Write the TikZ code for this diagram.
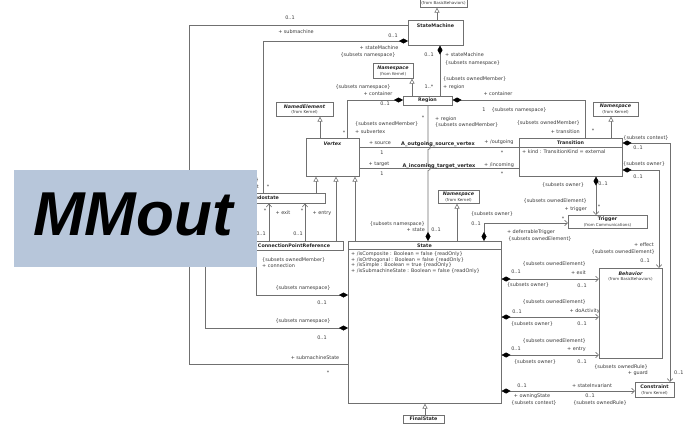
\documentclass[tikz,border=0pt]{standalone}
\usepackage{fontspec}
\usetikzlibrary{arrows.meta}
\newfontfamily\dvfam{DejaVu Sans}[ItalicFont={DejaVu Sans Oblique},BoldFont={DejaVu Sans Bold},BoldItalicFont={DejaVu Sans Bold Oblique}]
\newfontfamily\mmfam{Liberation Sans}
\newcommand\lbfont{\dvfam\fontsize{4.9}{5.4}\selectfont}
\newcommand\smfont{\dvfam\fontsize{4}{4.5}\selectfont}
\newcommand\ttlfont{\dvfam\bfseries\fontsize{4.8}{5.5}\selectfont}
\newcommand\absfont{\dvfam\bfseries\itshape\fontsize{4.8}{5.5}\selectfont}
\definecolor{linegray}{HTML}{707070}
\definecolor{txtgray}{HTML}{3A3A3A}
\definecolor{mmblue}{RGB}{183,198,218}
\tikzset{
  cls/.style={draw=linegray, fill=white, line width=0.6pt, inner sep=0, anchor=north west},
  ttl/.style={font=\ttlfont, text=black!85, inner sep=0},
  abs/.style={font=\absfont, text=black!85, inner sep=0},
  frm/.style={font=\smfont, text=txtgray, inner sep=0},
  lb/.style={font=\lbfont, text=txtgray, inner sep=0},
  an/.style={font=\dvfam\bfseries\fontsize{5}{5.5}\selectfont, text=black!85, inner sep=0},
  assoc/.style={draw=linegray, line width=0.6pt},
  comp/.style={assoc, {Diamond[length=9pt,width=5pt,color=black]}-},
  compend/.style={assoc, -{Diamond[length=9pt,width=5pt,color=black]}},
  nav/.style={assoc, -{Straight Barb[length=3pt,width=5.5pt]}},
  compnav/.style={assoc, {Diamond[length=9pt,width=5pt,color=black]}-{Straight Barb[length=3pt,width=5.5pt]}},
  gen/.style={assoc, -{Triangle[open,length=5pt,width=5pt,fill=white]}},
}
\begin{document}
\begin{tikzpicture}[x=1pt,y=1pt]
\useasboundingbox (0,0) rectangle (683,-442);
\fill[white] (0,0) rectangle (683,-442);

% ---------- classes ----------
\node[cls, minimum width=47, minimum height=19] (bb) at (420,12) {};
\node[frm] (bbF) at (443.5,-3.5) {(from BasicBehaviors)};

\node[cls, minimum width=55, minimum height=25] (sm) at (408,-20) {};
\node[ttl] (smT) at (435.5,-25.5) {StateMachine};

\node[cls, minimum width=40, minimum height=15] (ns1) at (373,-63) {};
\node[abs] (ns1T) at (393,-68) {Namespace};
\node[frm] (ns1F) at (393,-74.5) {(from Kernel)};

\node[cls, minimum width=49, minimum height=9] (rg) at (403,-96) {};
\node[ttl] (rgT) at (427.5,-100.5) {Region};

\node[cls, minimum width=57, minimum height=14] (ne) at (276,-102) {};
\node[abs] (neT) at (304.5,-106.5) {NamedElement};
\node[frm] (neF) at (304.5,-112.5) {(from Kernel)};

\node[cls, minimum width=53, minimum height=38] (vx) at (306,-138) {};
\node[abs] (vxT) at (332.5,-143.5) {Vertex};

\node[cls, minimum width=45, minimum height=14] (ns2) at (593,-102) {};
\node[abs] (ns2T) at (615.5,-106.5) {Namespace};
\node[frm] (ns2F) at (615.5,-112.5) {(from Kernel)};

\node[cls, minimum width=103, minimum height=38] (tr) at (519,-138) {};
\node[ttl] (trT) at (570.5,-142.5) {Transition};
\draw[assoc] (tr.west |- 0,-147) -- (tr.east |- 0,-147);
\node[lb, anchor=west] (trA) at (522,-152) {+ kind : TransitionKind = external};

\node[cls, minimum width=126, minimum height=10] (ps) at (199,-193) {};
\node[ttl] (psT) at (262,-198) {Pseudostate};

\node[cls, minimum width=98, minimum height=9] (cpr) at (245,-241) {};
\node[ttl] (cprT) at (294,-245.5) {ConnectionPointReference};

\node[cls, minimum width=41, minimum height=13] (ns3) at (438,-190) {};
\node[abs] (ns3T) at (458.5,-194.5) {Namespace};
\node[frm] (ns3F) at (458.5,-200) {(from Kernel)};

\node[cls, minimum width=79, minimum height=13] (trg) at (568,-215) {};
\node[ttl] (trgT) at (607.5,-219) {Trigger};
\node[frm] (trgF) at (607.5,-225) {(from Communications)};

\node[cls, minimum width=153, minimum height=162] (st) at (348,-241) {};
\node[ttl] (stT) at (424.5,-245.5) {State};
\draw[assoc] (st.west |- 0,-249.5) -- (st.east |- 0,-249.5);
\node[lb, anchor=west] (stA1) at (351,-254.5) {+ /isComposite : Boolean = false \{readOnly\}};
\node[lb, anchor=west] (stA2) at (351,-260) {+ /isOrthogonal : Boolean = false \{readOnly\}};
\node[lb, anchor=west] (stA3) at (351,-265.5) {+ /isSimple : Boolean = true \{readOnly\}};
\node[lb, anchor=west] (stA4) at (351,-271) {+ /isSubmachineState : Boolean = false \{readOnly\}};

\node[cls, minimum width=63, minimum height=90] (bh) at (599,-268) {};
\node[abs] (bhT) at (630.5,-273.5) {Behavior};
\node[frm] (bhF) at (630.5,-279.5) {(from BasicBehaviors)};

\node[cls, minimum width=39, minimum height=15] (cn) at (635,-382) {};
\node[ttl] (cnT) at (654.5,-387) {Constraint};
\node[frm] (cnF) at (654.5,-393) {(from Kernel)};

\node[cls, minimum width=41, minimum height=8] (fs) at (403,-415) {};
\node[ttl] (fsT) at (423.5,-419) {FinalState};

% ---------- generalizations ----------
\draw[gen] (sm.north -| 437,0) -- (bb.south -| 437,0);
\draw[gen] (rg.north -| 412,0) -- (ns1.south -| 412,0);
\draw[gen] (vx.north -| 320,0) -- (ne.south -| 320,0);
\draw[gen] (tr.north -| 611,0) -- (ns2.south -| 611,0);
\draw[gen] (ps.north -| 316,0) -- (vx.south -| 316,0);
\draw[gen] (cpr.north -| 336,0) -- (vx.south -| 336,0);
\draw[gen] (st.north -| 355,0) -- (vx.south -| 355,0);
\draw[gen] (st.north -| 457,0) -- (ns3.south -| 457,0);
\draw[gen] (fs.north -| 425,0) -- (st.south -| 425,0);

% ---------- associations ----------
\draw[assoc] (sm.west |- 0,-25) -| (189,-364) -- (st.west |- 0,-364);
\draw[comp] (sm.west |- 0,-41) -| (ps.north -| 263,0);
\draw[comp] (sm.south -| 440,0) -- (rg.north -| 440,0);
\draw[comp] (rg.west |- 0,-100) -| (vx.north -| 347,0);
\draw[comp] (rg.east |- 0,-100) -| (tr.north -| 585,0);
\draw[compend] (rg.south -| 428,0) -- (428,-144.5)
   arc[start angle=90, end angle=-90, radius=2.5] -- (428,-165.5)
   arc[start angle=90, end angle=-90, radius=2.5] -- (st.north -| 428,0);
\draw[assoc] (vx.east |- 0,-147) -- (tr.west |- 0,-147);
\draw[assoc] (vx.east |- 0,-168) -- (tr.west |- 0,-168);
\draw[compnav] (tr.east |- 0,-143) -| (cn.north -| 670,0);
\draw[compnav] (tr.east |- 0,-170) -| (bh.north -| 659,0);
\draw[compnav] (tr.south -| 596,0) -- (trg.north -| 596,0);
\draw[nav] (cpr.north -| 269,0) -- (ps.south -| 269,0);
\draw[nav] (cpr.north -| 305,0) -- (ps.south -| 305,0);
\draw[comp] (st.west |- 0,-295) -| (cpr.south -| 256,0);
\draw[comp] (st.west |- 0,-328) -| (ps.south -| 205,0);
\draw[compnav] (st.north -| 484,0) |- (trg.west |- 0,-223);
\draw[compnav] (st.east |- 0,-279) -- (bh.west |- 0,-279);
\draw[compnav] (st.east |- 0,-317) -- (bh.west |- 0,-317);
\draw[compnav] (st.east |- 0,-355) -- (bh.west |- 0,-355);
\draw[compnav] (st.east |- 0,-391) -- (cn.west |- 0,-391);

% ---------- role labels ----------
\node[lb] (l1) at (290,-18) {0..1};
\node[lb] (l2) at (296,-32) {+ submachine};
\node[lb] (l3) at (393,-36) {0..1};
\node[lb] (l4) at (379,-48) {+ stateMachine};
\node[lb] (l5) at (368,-55) {\{subsets namespace\}};
\node[lb] (l6) at (429,-55) {0..1};
\node[lb, anchor=west] (l7) at (445,-55) {+ stateMachine};
\node[lb, anchor=west] (l8) at (445,-63) {\{subsets namespace\}};
\node[lb, anchor=west] (l9) at (443,-79) {\{subsets ownedMember\}};
\node[lb, anchor=west] (l10) at (443,-87) {+ region};
\node[lb] (l11) at (429,-87) {1..*};
\node[lb] (l12) at (363,-87) {\{subsets namespace\}};
\node[lb] (l13) at (378,-94) {+ container};
\node[lb] (l14) at (385,-104) {0..1};
\node[lb] (l15) at (498,-94) {+ container};
\node[lb] (l16) at (484,-110) {1};
\node[lb] (l16b) at (519,-110) {\{subsets namespace\}};
\node[lb] (l17) at (423,-118) {*};
\node[lb, anchor=west] (l18) at (435,-119) {+ region};
\node[lb, anchor=west] (l19) at (435,-125) {\{subsets ownedMember\}};
\node[lb, anchor=east] (l20) at (580,-123) {\{subsets ownedMember\}};
\node[lb, anchor=east] (l21) at (580,-132) {+ transition};
\node[lb] (l22) at (593,-131) {*};
\node[lb, anchor=west] (l23) at (355,-124) {\{subsets ownedMember\}};
\node[lb, anchor=west] (l24) at (355,-132) {+ subvertex};
\node[lb] (l25) at (344,-133) {*};
\node[lb] (l26) at (380,-143) {+ source};
\node[an] (l27) at (438,-144) {A\_outgoing\_source\_vertex};
\node[lb] (l28) at (499,-142) {+ /outgoing};
\node[lb] (l29) at (382,-153) {1};
\node[lb] (l30) at (502,-153) {*};
\node[lb] (l31) at (379,-164) {+ target};
\node[an] (l32) at (439,-166) {A\_incoming\_target\_vertex};
\node[lb] (l33) at (499,-165) {+ /incoming};
\node[lb] (l34) at (382,-174) {1};
\node[lb] (l35) at (502,-174) {*};
\node[lb] (l36) at (646,-138) {\{subsets context\}};
\node[lb] (l37) at (638,-148) {0..1};
\node[lb] (l38) at (644,-164) {\{subsets owner\}};
\node[lb] (l39) at (638,-177) {0..1};
\node[lb] (l40) at (563,-185) {\{subsets owner\}};
\node[lb] (l41) at (603,-184) {0..1};
\node[lb, anchor=east] (l42) at (587,-201) {\{subsets ownedElement\}};
\node[lb, anchor=east] (l43) at (587,-209) {+ trigger};
\node[lb] (l44) at (599,-207) {*};
\node[lb, anchor=east] (l45) at (259,-180.5) {\{subsets ownedMember\}};
\node[lb, anchor=east] (l46) at (259,-186.8) {+ connectionPoint};
\node[lb] (l47) at (268,-187) {*};
\node[lb] (l48) at (265,-211) {*};
\node[lb] (l49) at (283,-213) {+ exit};
\node[lb] (l50) at (302,-211) {*};
\node[lb] (l51) at (322,-213) {+ entry};
\node[lb] (l52) at (261,-234) {0..1};
\node[lb] (l53) at (298,-234) {0..1};
\node[lb, anchor=east] (l54) at (425,-224) {\{subsets namespace\}};
\node[lb, anchor=east] (l55) at (425,-229.5) {+ state};
\node[lb] (l56) at (436,-229.5) {0..1};
\node[lb] (l57) at (492,-214) {\{subsets owner\}};
\node[lb] (l58) at (476,-224) {0..1};
\node[lb] (l59) at (563,-219) {*};
\node[lb] (l60) at (531,-232) {+ deferrableTrigger};
\node[lb] (l61) at (540,-239) {\{subsets ownedElement\}};
\node[lb, anchor=east] (l62) at (654,-245) {+ effect};
\node[lb, anchor=east] (l63) at (655,-252) {\{subsets ownedElement\}};
\node[lb] (l64) at (645,-261) {0..1};
\node[lb, anchor=west] (l65) at (262,-260) {\{subsets ownedMember\}};
\node[lb, anchor=west] (l66) at (262,-265.5) {+ connection};
\node[lb] (l67) at (303,-288) {\{subsets namespace\}};
\node[lb] (l68) at (322,-303) {0..1};
\node[lb] (l69) at (303,-321) {\{subsets namespace\}};
\node[lb] (l70) at (322,-338) {0..1};
\node[lb] (l71) at (315,-358) {+ submachineState};
\node[lb] (l72) at (328,-373) {*};
\node[lb, anchor=east] (l73) at (586,-264) {\{subsets ownedElement\}};
\node[lb] (l74) at (516,-272) {0..1};
\node[lb, anchor=east] (l75) at (586,-273) {+ exit};
\node[lb] (l76) at (528,-285) {\{subsets owner\}};
\node[lb] (l77) at (582,-286) {0..1};
\node[lb, anchor=east] (l78) at (586,-302) {\{subsets ownedElement\}};
\node[lb] (l79) at (517,-312) {0..1};
\node[lb, anchor=east] (l80) at (600,-311) {+ doActivity};
\node[lb] (l81) at (532,-324) {\{subsets owner\}};
\node[lb] (l82) at (582,-324) {0..1};
\node[lb, anchor=east] (l83) at (586,-341) {\{subsets ownedElement\}};
\node[lb] (l84) at (516,-349) {0..1};
\node[lb, anchor=east] (l85) at (586,-349) {+ entry};
\node[lb] (l86) at (535,-362) {\{subsets owner\}};
\node[lb] (l87) at (582,-362) {0..1};
\node[lb] (l88) at (522,-386) {0..1};
\node[lb] (l89) at (592,-386) {+ stateInvariant};
\node[lb] (l90) at (532,-396) {+ owningState};
\node[lb] (l91) at (534,-403) {\{subsets context\}};
\node[lb] (l92) at (590,-396) {0..1};
\node[lb] (l93) at (600,-403) {\{subsets ownedRule\}};
\node[lb, anchor=east] (l94) at (648,-367) {\{subsets ownedRule\}};
\node[lb, anchor=east] (l95) at (648,-373) {+ guard};
\node[lb, anchor=west] (l96) at (674,-373) {0..1};

% ---------- title panel ----------
\node[fill=mmblue, minimum width=243, minimum height=97, inner sep=0, anchor=north west] (mmbox) at (14,-170) {};
\node[font=\mmfam\bfseries\itshape\fontsize{62}{62}\selectfont, inner sep=0,
      text height=44pt, text depth=0pt, anchor=base west] (mmtxt) at (33,-235) {MMout};
\end{tikzpicture}
\end{document}
